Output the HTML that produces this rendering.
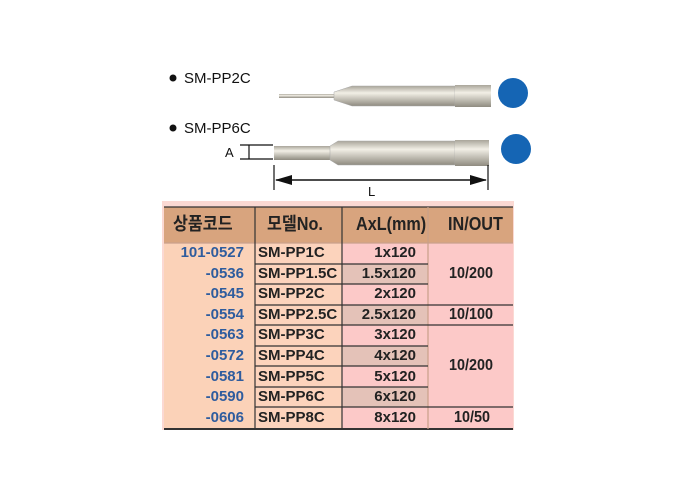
<!DOCTYPE html><html><head><style>
body{margin:0;width:700px;height:500px;background:#fff;position:relative;overflow:hidden;font-family:"Liberation Sans","Noto Sans CJK KR",sans-serif}
.a{position:absolute}
.t{position:absolute;font-weight:bold;font-size:16px;line-height:20px;color:#222;transform:scaleX(.9);transform-origin:left}
.h{position:absolute;font-weight:bold;font-size:18px;line-height:20px;color:#222;transform:scaleX(.9);transform-origin:left}
.c{position:absolute;left:0;top:0;width:700px;height:500px}
</style></head><body>
<div class="a" style="left:162px;top:201px;width:352px;height:229px;background:#fbd9d3"></div>
<div class="a" style="left:164px;top:207px;width:349px;height:36px;background:#d8a47e"></div>
<div class="a" style="left:164px;top:243px;width:91px;height:185px;background:#fbd2b8"></div>
<div class="a" style="left:255px;top:243px;width:87px;height:185px;background:#fcd3bc"></div>
<div class="a" style="left:342px;top:243px;width:171px;height:185px;background:#fcc9c8"></div>
<div class="a" style="left:342px;top:264px;width:86px;height:20px;background:#e4c2b8"></div>
<div class="a" style="left:342px;top:305px;width:86px;height:20px;background:#e4c2b8"></div>
<div class="a" style="left:342px;top:346px;width:86px;height:20px;background:#e4c2b8"></div>
<div class="a" style="left:342px;top:387px;width:86px;height:20px;background:#e4c2b8"></div>
<svg class="c" viewBox="0 0 700 500">
<g stroke="#333" stroke-width="1.2">
<line x1="164" y1="207" x2="513" y2="207"/>
<line x1="164" y1="429" x2="513" y2="429" stroke-width="2"/>
<line x1="164" y1="243" x2="513" y2="243" stroke="#c9a08a"/>
<line x1="255" y1="207" x2="255" y2="429"/>
<line x1="342" y1="207" x2="342" y2="429"/>
<line x1="428" y1="207" x2="428" y2="429" stroke="#c9a08a"/>
<line x1="255" y1="264" x2="428" y2="264"/><line x1="255" y1="284" x2="428" y2="284"/>
<line x1="255" y1="305" x2="513" y2="305"/><line x1="255" y1="325" x2="513" y2="325"/>
<line x1="255" y1="346" x2="428" y2="346"/><line x1="255" y1="366" x2="428" y2="366"/>
<line x1="255" y1="387" x2="428" y2="387"/><line x1="255" y1="407" x2="513" y2="407"/>
</g>
<defs><linearGradient id="g" x1="0" y1="0" x2="0" y2="1"><stop offset="0" stop-color="#a9a59a"/><stop offset=".35" stop-color="#f2efe6"/><stop offset="1" stop-color="#8f8b80"/></linearGradient></defs>
<rect x="279" y="94" width="55" height="4" fill="url(#g)"/>
<path d="M334 92 L352 86 L455 86 L455 106 L352 106 L334 100Z" fill="url(#g)" stroke="#aaa" stroke-width=".5"/>
<rect x="455" y="85" width="36" height="22" fill="url(#g)"/>
<ellipse cx="513" cy="93" rx="15" ry="15" fill="#1565b4"/>
<rect x="274" y="146" width="56" height="14" fill="url(#g)"/>
<path d="M330 146 L338 141 L455 141 L455 165 L338 165 L330 160Z" fill="url(#g)" stroke="#aaa" stroke-width=".5"/>
<rect x="455" y="140" width="34" height="26" fill="url(#g)"/>
<ellipse cx="516" cy="149" rx="15" ry="15" fill="#1565b4"/>
<g stroke="#111" stroke-width="1.2"><line x1="240" y1="145" x2="273" y2="145"/><line x1="240" y1="159" x2="273" y2="159"/><line x1="249" y1="145" x2="249" y2="159"/>
<line x1="274" y1="165" x2="274" y2="190"/><line x1="488" y1="165" x2="488" y2="190"/><line x1="276" y1="180" x2="486" y2="180" stroke-width="1.5"/></g>
<path d="M275 180 L292 175 L292 185Z M487 180 L470 175 L470 185Z" fill="#111"/>
<circle cx="173" cy="78" r="3.5" fill="#111"/><circle cx="173" cy="128" r="3.5" fill="#111"/>
<text x="184" y="83" font-size="15" font-family="Liberation Sans" fill="#111">SM-PP2C</text>
<text x="184" y="133" font-size="15" font-family="Liberation Sans" fill="#111">SM-PP6C</text>
<text x="225" y="157" font-size="13" font-family="Liberation Sans" fill="#111">A</text>
<text x="368" y="196" font-size="13" font-family="Liberation Sans" fill="#111">L</text>
</svg>
<div class="h" style="left:173px;top:214px;">상품코드</div>
<div class="h" style="left:267px;top:214px;">모델No.</div>
<div class="h" style="left:356px;top:214px;">AxL(mm)</div>
<div class="h" style="left:448px;top:214px;">IN/OUT</div>
<div style="position:absolute;left:164px;top:243px;width:80px;text-align:right;font-weight:bold;font-size:15px;line-height:20.6px;color:#2e5c9e">101-0527<br>-0536<br>-0545<br>-0554<br>-0563<br>-0572<br>-0581<br>-0590<br>-0606</div>
<div style="position:absolute;left:258px;top:243px;font-weight:bold;font-size:15px;line-height:20.6px;color:#222">SM-PP1C<br>SM-PP1.5C<br>SM-PP2C<br>SM-PP2.5C<br>SM-PP3C<br>SM-PP4C<br>SM-PP5C<br>SM-PP6C<br>SM-PP8C</div>
<div style="position:absolute;left:342px;top:243px;width:74px;text-align:right;font-weight:bold;font-size:15px;line-height:20.6px;color:#222">1x120<br>1.5x120<br>2x120<br>2.5x120<br>3x120<br>4x120<br>5x120<br>6x120<br>8x120</div>
<div class="t" style="left:449px;top:264px;">10/200</div>
<div class="t" style="left:449px;top:305px;">10/100</div>
<div class="t" style="left:449px;top:356px;">10/200</div>
<div class="t" style="left:454px;top:408px;">10/50</div>
</body></html>
